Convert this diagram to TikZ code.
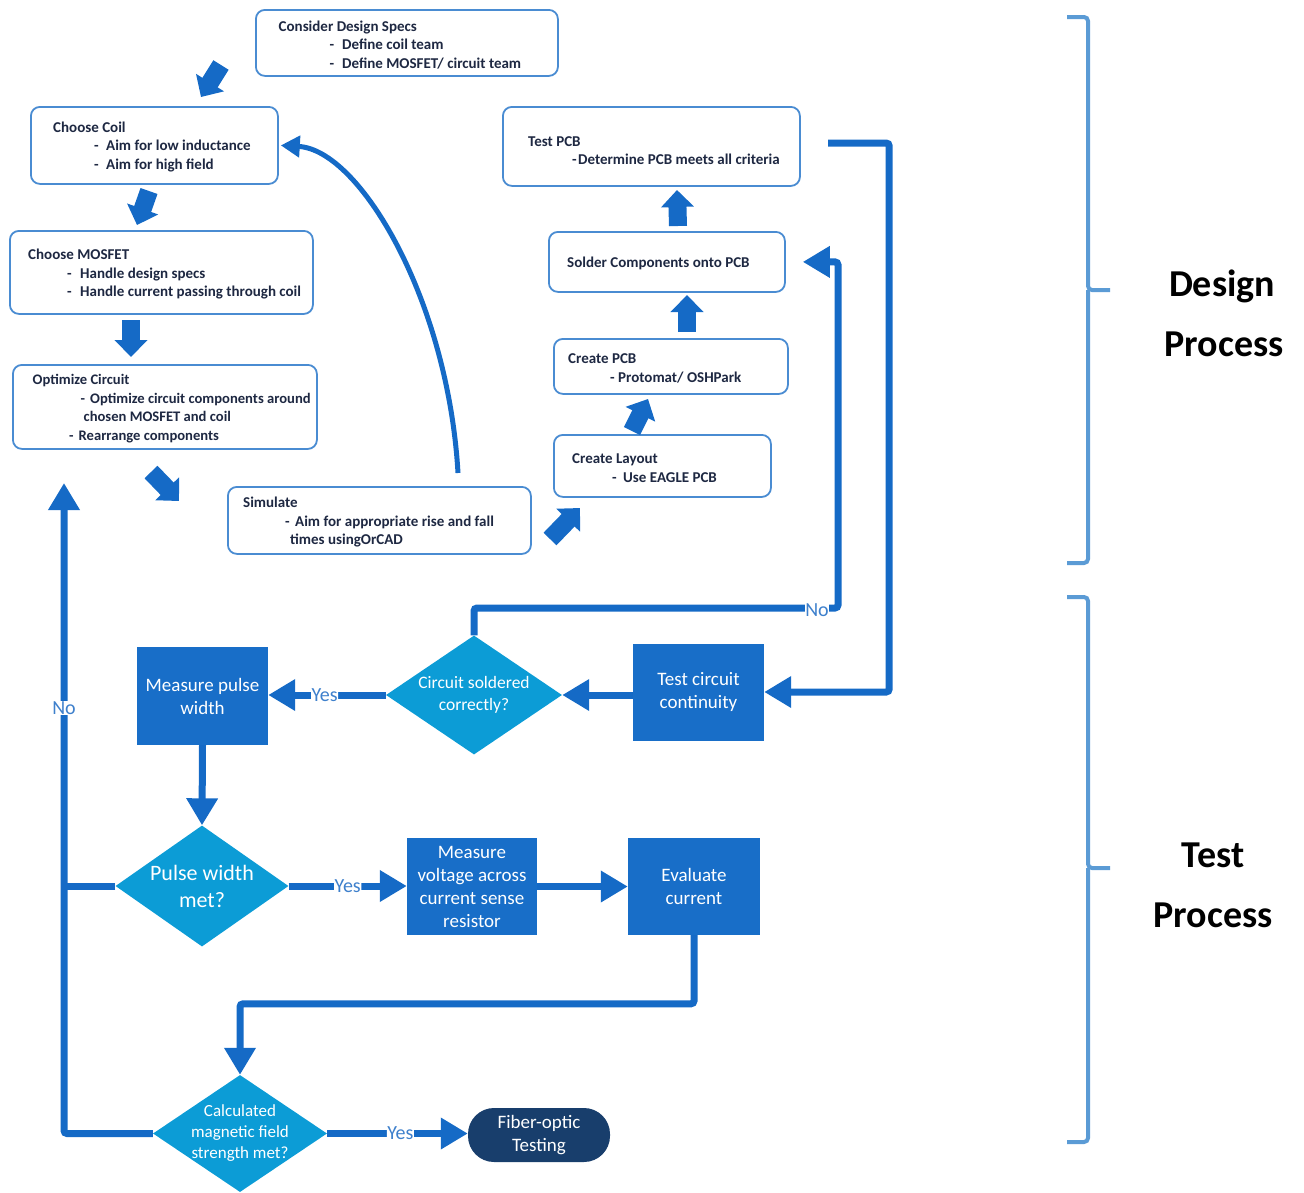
\documentclass[tikz,border=0pt]{standalone}
\usepackage{fontspec}
\setmainfont{Carlito}
\usetikzlibrary{arrows.meta,shapes.geometric,calc}
\definecolor{boxline}{RGB}{74,140,210}
\definecolor{txtc}{RGB}{30,40,66}
\definecolor{flowc}{RGB}{21,106,198}
\definecolor{procc}{RGB}{24,110,200}
\definecolor{decc}{RGB}{12,156,214}
\definecolor{termc}{RGB}{24,62,108}
\definecolor{lblc}{RGB}{62,128,204}
\definecolor{bracec}{RGB}{91,155,213}
\newcommand\itemdash[2]{\hspace*{#1}\makebox[#2][l]{-}}
\begin{document}
\begin{tikzpicture}[x=1pt,y=-1pt,
  dbox/.style n args={2}{draw=boxline, line width=1.8pt, rounded corners=9pt, fill=white,
     anchor=north west, minimum width=#1, minimum height=#2, inner sep=0pt},
  btext/.style={anchor=west, align=left, inner sep=0pt, text=txtc,
     font=\fontsize{15}{18.5}\selectfont\bfseries},
  procbox/.style={fill=procc, text=white, align=center, inner sep=0pt,
     font=\fontsize{19}{23}\selectfont},
  decbox/.style={diamond, fill=decc, inner sep=0pt},
  dectext/.style={text=white, align=center, inner sep=0pt},
  flow/.style={draw=flowc, line width=7pt, rounded corners=3pt},
  tip/.style={-{Triangle[width=30pt,length=27pt]}},
  blockarrow/.style={draw=flowc, line width=18pt, -{Triangle[width=32pt,length=17pt]}},
  lbl/.style={text=lblc, fill=white, inner sep=0.5pt, font=\fontsize{20}{20}\selectfont},
  bracket/.style={draw=bracec, line width=4pt, rounded corners=4pt},
  headtext/.style={anchor=base, inner sep=0pt, font=\fontsize{38}{38}\selectfont\bfseries}
]
\useasboundingbox (0,0) rectangle (1304,1192);

% ---------------- Design process boxes ----------------
\node[dbox={302pt}{66pt}] (specs) at (255,9) {};
\node[btext] (specs-t) at ($(specs.west)+(23.5,2)$) {Consider Design Specs\\
  \itemdash{51pt}{12.5pt}Define coil team\\
  \itemdash{51pt}{12.5pt}Define MOSFET/ circuit team};

\node[dbox={247pt}{77pt}] (coil) at (30,106) {};
\node[btext] (coil-t) at ($(coil.west)+(23,1.5)$) {Choose Coil\\
  \itemdash{41pt}{12pt}Aim for low inductance\\
  \itemdash{41pt}{12pt}Aim for high field};

\node[dbox={303pt}{83pt}] (mosfet) at (9,230) {};
\node[btext] (mosfet-t) at ($(mosfet.west)+(19,2)$) {Choose MOSFET\\
  \itemdash{39pt}{13pt}Handle design specs\\
  \itemdash{39pt}{13pt}Handle current passing through coil};

\node[dbox={304pt}{84pt}] (optim) at (12,364) {};
\node[btext, font=\fontsize{14.6}{18.5}\selectfont\bfseries] (optim-t) at ($(optim.west)+(20.5,1.5)$) {Optimize Circuit\\
  \itemdash{48pt}{9.5pt}Optimize circuit components around\\
  \hspace*{51pt}chosen MOSFET and coil\\
  \itemdash{36.5pt}{9.5pt}Rearrange components};

\node[dbox={303pt}{67pt}] (sim) at (227,486) {};
\node[btext] (sim-t) at ($(sim.west)+(16,2)$) {Simulate\\
  \itemdash{42pt}{10pt}Aim for appropriate rise and fall\\
  \hspace*{47pt}times usingOrCAD};

\node[dbox={217pt}{62pt}] (layout) at (553,434) {};
\node[btext] (layout-t) at ($(layout.west)+(19,2)$) {Create Layout\\
  \itemdash{40pt}{11pt}Use EAGLE PCB};

\node[dbox={234pt}{55pt}] (pcb) at (553,338) {};
\node[btext] (pcb-t) at ($(pcb.west)+(15,2)$) {Create PCB\\
  \itemdash{42pt}{8pt}Protomat/ OSHPark};

\node[dbox={236pt}{60pt}] (solder) at (548,231) {};
\node[btext] (solder-t) at ($(solder.west)+(19,1.5)$) {Solder Components onto PCB};

\node[dbox={297pt}{79pt}] (testpcb) at (502,106) {};
\node[btext] (testpcb-t) at ($(testpcb.west)+(26,4)$) {Test PCB\\
  \itemdash{44pt}{6pt}Determine PCB meets all criteria};

% block arrows
\coordinate (a1s) at (221,65);  \coordinate (a1e) at (201,97);
\coordinate (a2s) at (149,191); \coordinate (a2e) at (137,225);
\coordinate (a3s) at (131,320); \coordinate (a3e) at (131,357);
\coordinate (a4s) at (151,472); \coordinate (a4e) at (179,501);
\coordinate (a5s) at (550,539); \coordinate (a5e) at (580,508);
\coordinate (a6s) at (632,431); \coordinate (a6e) at (648,399);
\coordinate (a7s) at (687,332); \coordinate (a7e) at (687,295);
\coordinate (a8s) at (678,226); \coordinate (a8e) at (677,190);
\foreach \i in {1,...,8} {\draw[blockarrow] (a\i s) -- (a\i e);}

% curved feedback arrow
\coordinate (simtop) at (458,473);
\draw[draw=flowc, line width=5pt, -{Triangle[width=21pt,length=19pt]}]
  (simtop) .. controls (448,300) and (360,150) .. ($(coil.east)+(2,0)$);

% ---------------- Test process ----------------
\node[procbox, minimum width=131pt, minimum height=97pt] (tcc) at (698.5,692) {Test circuit\\continuity};
\node[decbox, minimum width=176pt, minimum height=119pt] (csc) at (474,695) {};
\node[dectext, font=\fontsize{17.5}{22}\selectfont] (csc-t) at (csc.center) {Circuit soldered\\correctly?};
\node[procbox, minimum width=131pt, minimum height=98pt] (mpw) at (202.5,696) {Measure pulse\\width};
\node[decbox, minimum width=173pt, minimum height=121pt] (pwm) at (202,886) {};
\node[dectext, font=\fontsize{22}{27}\selectfont] (pwm-t) at (pwm.center) {Pulse width\\met?};
\node[procbox, minimum width=130pt, minimum height=97pt] (mva) at (472,886.5) {Measure\\voltage across\\current sense\\resistor};
\node[procbox, minimum width=132pt, minimum height=97pt] (evc) at (694,886.5) {Evaluate\\current};
\node[decbox, minimum width=174pt, minimum height=117pt] (cmf) at (240,1133.5) {};
\node[dectext, font=\fontsize{17}{21}\selectfont] (cmf-t) at (cmf.center) {Calculated\\magnetic field\\strength met?};
\node[procbox, fill=termc, rounded corners=26pt, minimum width=142pt, minimum height=54pt] (fot) at (539,1135) {Fiber-optic\\Testing};

% connectors
\coordinate (tpout) at (828,143);
\draw[flow, tip] (tpout) -| ($(tcc.east)+(125,0)$) -- (tcc.east);

\coordinate (nocorner) at (838,608);
\draw[flow, tip, shorten >=17pt] (csc.north) |- (nocorner) |- (solder.east);
\node[lbl] (no1) at (817,610) {No};

\draw[flow, tip] (tcc.west |- csc.east) -- (csc.east);
\draw[flow, tip] (csc.west) -- (csc.west -| mpw.east) node[lbl, pos=0.52] (yes1) {Yes};
\draw[flow, tip] (mpw.south) -- (pwm.north);
\draw[flow, tip] (pwm.east) -- (pwm.east -| mva.west) node[lbl, pos=0.50] (yes2) {Yes};
\draw[flow, tip] (mva.east) -- (mva.east -| evc.west);
\draw[flow, tip] (evc.south) |- ($(cmf.north)+(0,-71)$) -- (cmf.north);
\draw[flow, tip] (cmf.east) -- (cmf.east -| fot.west) node[lbl, pos=0.52] (yes3) {Yes};

\coordinate (noend) at (64,483);
\draw[flow, tip] (cmf.west) -| (noend);
\draw[flow] (pwm.west) -- (pwm.west -| noend);
\node[lbl] (no2) at (64,708) {No};

% ---------------- brackets ----------------
\coordinate (b1t) at (1067,17);
\coordinate (b1b) at (1067,563);
\draw[bracket] (b1t) -- (1088,17) -- (1088,290) -- (1110,290);
\draw[bracket] (1088,290) -- (1088,563) -- (b1b);
\coordinate (b2t) at (1067,597);
\coordinate (b2b) at (1067,1142);
\draw[bracket] (b2t) -- (1088,597) -- (1088,868) -- (1110,868);
\draw[bracket] (1088,868) -- (1088,1142) -- (b2b);

\node[headtext] (design) at (1222,296) {Design};
\node[headtext] (process1) at (1224,356) {Process};
\node[headtext] (test) at (1213,867) {Test};
\node[headtext] (process2) at (1213,927) {Process};
\end{tikzpicture}
\end{document}
